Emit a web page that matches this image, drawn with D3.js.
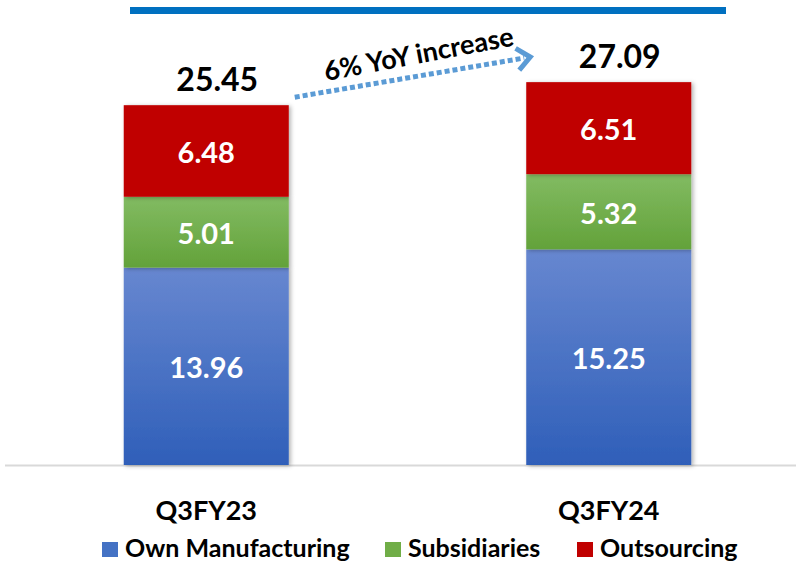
<!DOCTYPE html>
<html>
<head>
<meta charset="utf-8">
<script src="https://cdn.jsdelivr.net/npm/d3@7"></script>
<style>
  body { margin: 0; background: #fff; }
  text { font-family: Lato, "Open Sans", sans-serif; font-weight: 700; }
</style>
</head>
<body>
<svg id="chart" width="796" height="562"></svg>
<script>
// data
const categories = ["Q3FY23", "Q3FY24"];
const seriesNames = ["Own Manufacturing", "Subsidiaries", "Outsourcing"];
const ownManufacturing = [13.96, 15.25];
const subsidiaries = [5.01, 5.32];
const outsourcing = [6.48, 6.51];
const totals = [25.45, 27.09];
const growthLabel = "6% YoY increase";

const svg = d3.select("#chart"),
    width = 796,
    height = 562;

const colors = ["url(#gBlue)", "url(#gGreen)", "#c00000"];
const legendColors = ["#4472c4", "#70ad47", "#c00000"];

// gradients + shadow
const defs = svg.append("defs");
function grad(id, top, bottom) {
  let g = defs.append("linearGradient").attr("id", id)
    .attr("x1", 0).attr("y1", 0).attr("x2", 0).attr("y2", 1);
  g.append("stop").attr("offset", "0%").attr("stop-color", top);
  g.append("stop").attr("offset", "100%").attr("stop-color", bottom);
}
grad("gBlue", "#6787d0", "#2f5fb9");
grad("gGreen", "#82bb62", "#63a23a");
let f = defs.append("filter").attr("id", "shadow")
  .attr("x", "-10%").attr("y", "-10%").attr("width", "130%").attr("height", "130%");
f.append("feDropShadow").attr("dx", 2).attr("dy", 1).attr("stdDeviation", 2)
  .attr("flood-color", "#000").attr("flood-opacity", 0.3);

// top rule line
svg.append("rect").attr("x", 130).attr("y", 7).attr("width", 596).attr("height", 7)
  .attr("fill", "#0070c0");

// scales
let x = d3.scaleBand().domain(categories).range([5, 810]).paddingInner(0.59).paddingOuter(0.295);
let y = d3.scaleLinear().domain([0, 27.09]).range([465, 82]);

// baseline
svg.append("line").attr("x1", 5).attr("x2", width).attr("y1", 465.5).attr("y2", 465.5)
  .attr("stroke", "#d9d9d9").attr("stroke-width", 2);

// stacked data
let rows = categories.map((c, i) => ({
  cat: c,
  "Own Manufacturing": ownManufacturing[i],
  "Subsidiaries": subsidiaries[i],
  "Outsourcing": outsourcing[i]
}));
let stack = d3.stack().keys(seriesNames)(rows);

let groups = svg.selectAll("g.series")
  .data(stack)
  .enter()
  .append("g")
  .attr("class", "series");

groups.each(function(s, si) {
  let g = d3.select(this);
  g.selectAll("rect")
    .data(s)
    .enter()
    .append("rect")
    .attr("x", d => x(d.data.cat))
    .attr("y", d => y(d[1]))
    .attr("width", x.bandwidth())
    .attr("height", d => y(d[0]) - y(d[1]))
    .attr("fill", colors[si])
    .attr("filter", "url(#shadow)");
});

// value labels
groups.each(function(s) {
  d3.select(this).selectAll("text")
    .data(s)
    .enter()
    .append("text")
    .attr("x", d => x(d.data.cat) + x.bandwidth() / 2)
    .attr("y", d => (y(d[0]) + y(d[1])) / 2)
    .attr("dy", "0.42em")
    .attr("text-anchor", "middle")
    .attr("fill", "#fff")
    .attr("font-size", "29px")
    .text(d => (d[1] - d[0]).toFixed(2));
});

// totals (sit a little right of the bar centre)
svg.selectAll("text.total")
  .data(totals)
  .enter()
  .append("text")
  .attr("class", "total")
  .attr("x", (d, i) => x(categories[i]) + x.bandwidth() / 2 + 11)
  .attr("y", d => y(d) - 14)
  .attr("text-anchor", "middle")
  .attr("font-size", "32px")
  .attr("fill", "#000")
  .text(d => d.toFixed(2));

// category labels
svg.selectAll("text.cat")
  .data(categories)
  .enter()
  .append("text")
  .attr("class", "cat")
  .attr("x", d => x(d) + x.bandwidth() / 2)
  .attr("y", 520)
  .attr("text-anchor", "middle")
  .attr("font-size", "27px")
  .attr("fill", "#000")
  .text(d => d);

// growth arrow
let ax1 = x(categories[0]) + x.bandwidth() + 6, ay1 = y(totals[0]) - 8;
let ax2 = x(categories[1]) + 4, ay2 = y(totals[1]) - 25;
svg.append("line")
  .attr("x1", ax1).attr("y1", ay1).attr("x2", ax2 - 6).attr("y2", ay2 + 1)
  .attr("stroke", "#5b9bd5").attr("stroke-width", 5).attr("stroke-dasharray", "5,3");
let ang = Math.atan2(ay2 - ay1, ax2 - ax1);
function rot(px, py) {
  return [ax2 + px * Math.cos(ang) - py * Math.sin(ang), ay2 + px * Math.sin(ang) + py * Math.cos(ang)];
}
svg.append("path")
  .attr("d", d3.line()([rot(-13, -11), rot(0, 0), rot(-13, 11)]))
  .attr("fill", "none").attr("stroke", "#5b9bd5").attr("stroke-width", 5);
svg.append("text")
  .attr("transform", `translate(${(ax1 + ax2) / 2 + 8},${(ay1 + ay2) / 2 - 14}) rotate(${ang * 180 / Math.PI - 1})`)
  .attr("text-anchor", "middle")
  .attr("font-size", "27px")
  .attr("fill", "#000")
  .text(growthLabel);

// legend
let legendX = [102, 385, 577];
let legend = svg.selectAll("g.legend")
  .data(seriesNames)
  .enter()
  .append("g")
  .attr("class", "legend")
  .attr("transform", (d, i) => `translate(${legendX[i]},542)`);
legend.append("rect").attr("width", 16).attr("height", 15).attr("fill", (d, i) => legendColors[i]);
legend.append("text").attr("x", 23).attr("y", 15).attr("font-size", "25px").attr("fill", "#000").text(d => d);
</script>
</body>
</html>
